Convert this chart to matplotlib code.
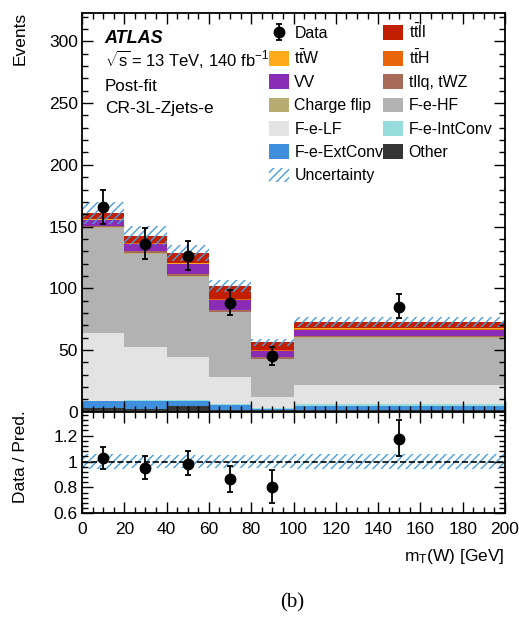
import numpy as np
import matplotlib
matplotlib.use("Agg")
import matplotlib.pyplot as plt
from matplotlib.patches import Patch
from matplotlib.ticker import MultipleLocator, FuncFormatter

plt.rcParams["font.family"] = ["Liberation Sans", "DejaVu Sans"]
plt.rcParams["mathtext.fontset"] = "custom"
plt.rcParams["mathtext.rm"] = "Liberation Sans"
plt.rcParams["mathtext.it"] = "Liberation Sans:italic"
plt.rcParams["hatch.linewidth"] = 1.0

# m_T(W) bin edges [GeV]
edges = [0, 20, 40, 60, 80, 100, 200]

# background yields per bin, bottom of the stack first
other = [3.0, 2.4, 4.6, 1.4, 1.0, 1.4]
ext_conv = [5.4, 6.5, 4.3, 3.7, 1.4, 3.5]
int_conv = [0.6, 0.6, 0.8, 0.8, 0.8, 1.4]
lf = [54.8, 42.7, 34.4, 21.9, 9.0, 15.6]
hf = [85.2, 75.7, 65.4, 52.8, 30.5, 38.0]
charge_flip = [0.3, 0.3, 0.3, 0.3, 0.2, 0.3]
tllq = [1.0, 1.6, 1.9, 1.8, 1.6, 0.9]
vv = [4.6, 6.2, 7.7, 7.9, 5.0, 5.4]
tth = [0.4, 0.4, 0.4, 0.4, 0.3, 0.4]
ttw = [0.5, 0.6, 0.6, 0.6, 0.4, 0.6]
ttll = [5.3, 5.7, 8.0, 10.0, 6.0, 4.9]
uncert = [9.0, 7.5, 6.5, 5.0, 3.0, 4.0]

# data
data = [166, 136, 126, 88, 45, 85]
data_err_up = [13.7, 12.7, 12.4, 10.2, 7.6, 10.6]
data_err_dn = [13.6, 12.2, 11.3, 10.0, 7.0, 9.4]

stack = [
    ("Other", other, "#353535"),
    ("F-e-ExtConv", ext_conv, "#3f8fdc"),
    ("F-e-IntConv", int_conv, "#96dcdc"),
    ("F-e-LF", lf, "#e3e3e3"),
    ("F-e-HF", hf, "#b2b2b2"),
    ("Charge flip", charge_flip, "#b8ac72"),
    ("tllq, tWZ", tllq, "#a86a58"),
    ("VV", vv, "#8a2cb5"),
    (r"t$\mathrm{\bar{t}}$H", tth, "#e8650a"),
    (r"t$\mathrm{\bar{t}}$W", ttw, "#ffaa1a"),
    (r"t$\mathrm{\bar{t}}$ll", ttll, "#c21f00"),
]
hatch_col = "#4a9ee0"

edges = np.array(edges, dtype=float)
centers = 0.5 * (edges[:-1] + edges[1:])

W, H = 519, 621
fig = plt.figure(figsize=(W / 100, H / 100), dpi=100)
ax = fig.add_axes([82 / W, 1 - 411.7 / H, 423 / W, 398.7 / H])
axr = fig.add_axes([82 / W, 1 - 513.3 / H, 423 / W, 101.6 / H], sharex=ax)

handles = {}
bottom = np.zeros(len(data))
for name, vals, col in stack:
    top = bottom + np.array(vals)
    ax.stairs(top, edges, baseline=bottom, fill=True, color=col, lw=0)
    handles[name] = Patch(facecolor=col, edgecolor="none")
    bottom = top
total = bottom
unc = np.array(uncert)

ax.stairs(total + unc, edges, baseline=total - unc, fill=True, facecolor="none",
          edgecolor=hatch_col, hatch="////", lw=0)
handles["Uncertainty"] = Patch(facecolor="none", edgecolor=hatch_col, hatch="////", lw=0)

eb = ax.errorbar(centers, data, yerr=[data_err_dn, data_err_up], fmt="o", color="black",
                 ms=7.5, elinewidth=1.3, capsize=2, capthick=1.3, zorder=5)
handles["Data"] = eb

# ratio panel
rel = unc / total
axr.stairs(1 + rel, edges, baseline=1 - rel, fill=True, facecolor="none",
           edgecolor=hatch_col, hatch="////", lw=0)
axr.axhline(1.0, color="black", ls="--", lw=1.2)
ratio = np.array(data) / total
axr.errorbar(centers, ratio, yerr=[np.array(data_err_dn) / total, np.array(data_err_up) / total],
             fmt="o", color="black", ms=7.5, elinewidth=1.3, capsize=2, capthick=1.3, zorder=5)

# axes styling
for a in (ax, axr):
    a.set_xlim(0, 200)
    a.xaxis.set_major_locator(MultipleLocator(20))
    a.xaxis.set_minor_locator(MultipleLocator(5))
    a.tick_params(which="both", direction="in", top=True, right=True, labelsize=12.5, width=1.0)
    a.tick_params(which="major", length=8)
    a.tick_params(which="minor", length=4)
    for s in a.spines.values():
        s.set_linewidth(1.3)

ax.set_ylim(0, 323)
ax.yaxis.set_major_locator(MultipleLocator(50))
ax.yaxis.set_minor_locator(MultipleLocator(10))
ax.tick_params(labelbottom=False, pad=3)

axr.set_ylim(0.6, 1.385)
axr.yaxis.set_major_locator(MultipleLocator(0.2))
axr.yaxis.set_minor_locator(MultipleLocator(0.04))
axr.yaxis.set_major_formatter(FuncFormatter(lambda v, p: f"{v:g}"))
axr.tick_params(axis="y", pad=3)
axr.tick_params(axis="x", pad=6)

# labels
fig.text(20 / W, 1 - 12 / H, "Events", rotation=90, ha="center", va="top", fontsize=12.5)
fig.text(21 / W, 1 - 457 / H, "Data / Pred.", rotation=90, ha="center", va="center", fontsize=12.5)
fig.text(505 / W, 1 - 556 / H, r"m$_{\mathrm{T}}$(W) [GeV]", ha="right", va="center", fontsize=12.5)

ax.text(0.054, 0.925, "ATLAS", transform=ax.transAxes, fontsize=13, weight="bold", style="italic")
ax.text(0.054, 0.866, r"$\sqrt{\mathrm{s}}\,$= 13 TeV, 140 fb$^{-1}$", transform=ax.transAxes, fontsize=12)
ax.text(0.054, 0.805, "Post-fit", transform=ax.transAxes, fontsize=12.2)
ax.text(0.054, 0.748, "CR-3L-Zjets-e", transform=ax.transAxes, fontsize=12.5)

order = ["Data", r"t$\mathrm{\bar{t}}$W", "VV", "Charge flip", "F-e-LF", "F-e-ExtConv", "Uncertainty",
         r"t$\mathrm{\bar{t}}$ll", r"t$\mathrm{\bar{t}}$H", "tllq, tWZ", "F-e-HF", "F-e-IntConv", "Other"]
ax.legend([handles[k] for k in order], order, ncol=2, loc="upper left",
          bbox_to_anchor=(0.442, 0.975), frameon=False, fontsize=11.4,
          borderpad=0, borderaxespad=0, handlelength=1.25, handleheight=1.05,
          handletextpad=0.35, columnspacing=0.0, labelspacing=0.48)

fig.text(292 / W, 1 - 603 / H, "(b)", ha="center", va="center", fontsize=15, family="Liberation Serif")

fig.savefig("out.png", dpi=100)
